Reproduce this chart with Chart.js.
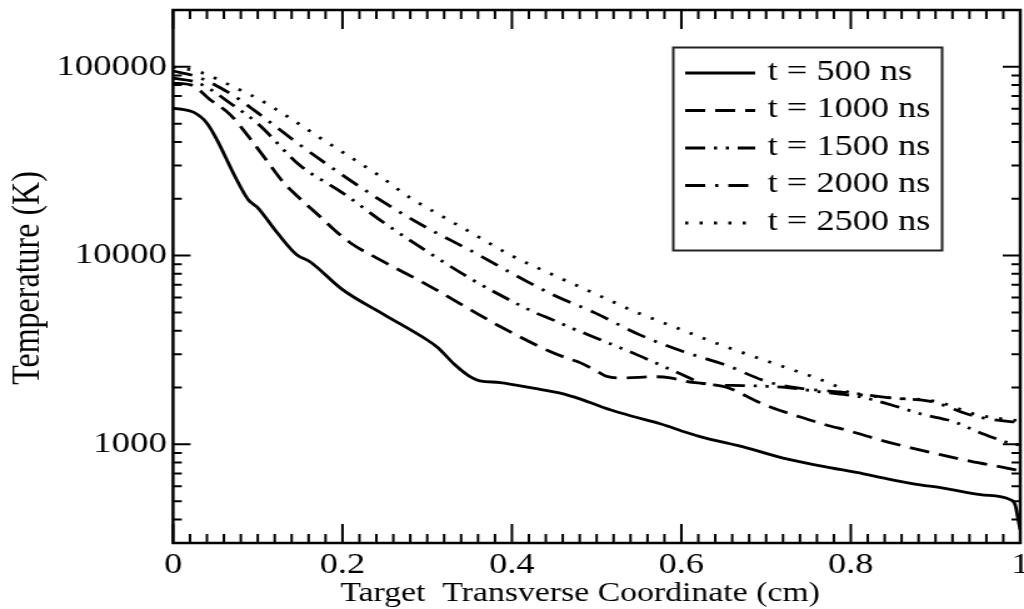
<!DOCTYPE html>
<html>
<head>
<meta charset="utf-8">
<title>Temperature vs transverse coordinate</title>
<script src="https://cdn.jsdelivr.net/npm/chart.js@4.4.0/dist/chart.umd.min.js"></script>
<style>
  html, body { margin: 0; padding: 0; background: #fff; }
</style>
</head>
<body>
<!-- drawn at 819 wide and shown at 1024 wide, like the original wide export -->
<canvas id="plot" width="819" height="609" style="display:block;width:1024px;height:609px"></canvas>
<script>
// transverse coordinate (cm) and temperature (K) for each time step
const x500 = [0, 0.024, 0.04, 0.052, 0.071, 0.089, 0.099, 0.123, 0.146, 0.162, 0.2, 0.25, 0.3, 0.312, 0.333, 0.351, 0.362, 0.386, 0.425, 0.457, 0.481, 0.516, 0.543, 0.575, 0.607, 0.622, 0.678, 0.72, 0.764, 0.815, 0.874, 0.909, 0.953, 0.988, 0.994, 0.997, 1.0];
const t500 = [60400, 57500, 50300, 40900, 27400, 19700, 18100, 13200, 10100, 9250, 6600, 4840, 3570, 3270, 2630, 2275, 2170, 2125, 1982, 1866, 1735, 1523, 1403, 1285, 1151, 1099, 955, 845, 769, 698, 617, 586, 541, 509, 478, 413, 352];

const x1000 = [0, 0.022, 0.043, 0.068, 0.09, 0.111, 0.13, 0.15, 0.174, 0.191, 0.209, 0.25, 0.3, 0.35, 0.386, 0.445, 0.465, 0.481, 0.501, 0.512, 0.53, 0.57, 0.587, 0.607, 0.63, 0.654, 0.678, 0.689, 0.708, 0.734, 0.77, 0.8, 0.836, 0.871, 0.907, 0.942, 0.98, 1.0];
const t1000 = [82000, 80000, 67400, 55500, 42200, 31700, 24500, 20000, 16000, 13600, 11700, 9200, 7000, 5200, 4210, 3100, 2860, 2700, 2430, 2290, 2250, 2280, 2250, 2150, 2090, 2000, 1790, 1690, 1556, 1425, 1270, 1172, 1050, 958, 879, 812, 755, 724];

const x1500 = [0, 0.03, 0.07, 0.1, 0.15, 0.2, 0.25, 0.3, 0.35, 0.386, 0.425, 0.449, 0.471, 0.5, 0.55, 0.6, 0.63, 0.66, 0.7, 0.725, 0.766, 0.81, 0.847, 0.885, 0.921, 0.953, 0.988, 1.0];
const t1500 = [87000, 82000, 63000, 50000, 30000, 21500, 14800, 10500, 7600, 6180, 5040, 4550, 4120, 3650, 2950, 2350, 2080, 2050, 2030, 2000, 1890, 1790, 1620, 1440, 1320, 1150, 1015, 990];

const x2000 = [0, 0.03, 0.07, 0.1, 0.15, 0.2, 0.25, 0.3, 0.35, 0.418, 0.449, 0.498, 0.551, 0.602, 0.652, 0.701, 0.737, 0.8, 0.847, 0.894, 0.914, 0.933, 0.956, 0.988, 1.0];
const t2000 = [95000, 88000, 71000, 57000, 38500, 26700, 19000, 14000, 10700, 7280, 6180, 4970, 3800, 3100, 2635, 2150, 1990, 1870, 1760, 1690, 1585, 1470, 1380, 1320, 1310];

const x2500 = [0, 0.032, 0.067, 0.103, 0.138, 0.174, 0.209, 0.244, 0.28, 0.315, 0.351, 0.398, 0.449, 0.496, 0.545, 0.595, 0.646, 0.697, 0.749, 0.779, 0.796, 0.85, 0.9, 0.95, 1.0];
const t2500 = [100000, 93700, 80000, 66700, 53500, 41900, 33300, 26400, 20200, 16400, 13300, 10070, 7890, 6340, 5050, 4130, 3370, 2800, 2330, 2070, 1900, 1760, 1690, 1430, 1330];

const seriesLabels = ['t = 500 ns', 't = 1000 ns', 't = 1500 ns', 't = 2000 ns', 't = 2500 ns'];
const xTickValues = [0, 0.2, 0.4, 0.6, 0.8, 1];
const yTickValues = [1000, 10000, 100000];

const SERIF = '"Liberation Serif", "DejaVu Serif", serif';

const toPoints = (xs, ts) => xs.map((v, i) => ({ x: v, y: ts[i] }));

// line styles: solid, dashed, dash-dot-dot, dash-dot, dotted
const dashes = [[], [16, 8], [16, 7, 2.5, 7, 2.5, 7], [16, 8, 2.5, 8], [2.5, 9]];
const seriesData = [
  toPoints(x500, t500),
  toPoints(x1000, t1000),
  toPoints(x1500, t1500),
  toPoints(x2000, t2000),
  toPoints(x2500, t2500)
];

const datasets = seriesData.map((d, i) => ({
  label: seriesLabels[i],
  data: d,
  borderColor: '#000',
  borderWidth: 2.8,
  borderDash: dashes[i],
  pointRadius: 0,
  fill: false,
  cubicInterpolationMode: 'monotone'
}));

// frame, inward ticks on all four sides, axis titles and the boxed legend
const frameAndLegend = {
  id: 'frameAndLegend',
  afterDraw(chart) {
    const { ctx, chartArea: a, scales: { x, y } } = chart;
    ctx.save();
    ctx.strokeStyle = '#000';
    ctx.setLineDash([]);

    ctx.lineWidth = 2;
    ctx.beginPath();
    for (let i = 0; i <= 50; i++) {
      const px = x.getPixelForValue(i * 0.02);
      const len = i % 10 === 0 ? 19 : 9;
      ctx.moveTo(px, a.bottom); ctx.lineTo(px, a.bottom - len);
      ctx.moveTo(px, a.top); ctx.lineTo(px, a.top + len);
    }
    for (let dec = 100; dec <= 100000; dec *= 10) {
      for (let m = 1; m <= 9; m++) {
        const v = dec * m;
        if (v <= y.min || v >= y.max) continue;
        const py = y.getPixelForValue(v);
        const len = m === 1 ? 14 : 7;
        ctx.moveTo(a.left, py); ctx.lineTo(a.left + len, py);
        ctx.moveTo(a.right, py); ctx.lineTo(a.right - len, py);
      }
    }
    ctx.stroke();

    ctx.lineWidth = 2.5;
    ctx.strokeRect(a.left, a.top, a.right - a.left, a.bottom - a.top);

    // axis titles
    ctx.fillStyle = '#000';
    ctx.font = '27px ' + SERIF;
    ctx.textAlign = 'center';
    ctx.textBaseline = 'alphabetic';
    ctx.fillText('Target  Transverse Coordinate (cm)', 464, 601);

    ctx.save();
    ctx.translate(23, 278);
    ctx.rotate(-Math.PI / 2);
    ctx.font = '32px ' + SERIF;
    ctx.textBaseline = 'middle';
    ctx.fillText('Temperature (K)', 0, 0);
    ctx.restore();

    // legend box
    const box = { left: 538.5, top: 47.5, right: 753.5, bottom: 250.5 };
    ctx.fillStyle = '#fff';
    ctx.fillRect(box.left, box.top, box.right - box.left, box.bottom - box.top);
    ctx.lineWidth = 2;
    ctx.strokeStyle = '#222';
    ctx.strokeRect(box.left, box.top, box.right - box.left, box.bottom - box.top);

    ctx.font = '29px ' + SERIF;
    ctx.textAlign = 'left';
    ctx.textBaseline = 'middle';
    ctx.fillStyle = '#000';
    ctx.strokeStyle = '#000';
    chart.data.datasets.forEach((ds, i) => {
      const rowY = 73 + i * 37.5;
      ctx.lineWidth = ds.borderWidth;
      ctx.setLineDash(ds.borderDash);
      ctx.beginPath();
      ctx.moveTo(548, rowY);
      ctx.lineTo(604, rowY);
      ctx.stroke();
      ctx.fillText(ds.label, 614, rowY - 1);
    });
    ctx.restore();
  }
};

new Chart(document.getElementById('plot'), {
  type: 'line',
  data: { datasets: datasets },
  options: {
    responsive: false,
    devicePixelRatio: 1,
    animation: false,
    events: [],
    layout: { padding: { top: 10, right: 3, left: 0, bottom: 0 } },
    plugins: {
      legend: { display: false },
      tooltip: { enabled: false }
    },
    scales: {
      x: {
        type: 'linear',
        min: 0,
        max: 1,
        grid: { display: false, drawTicks: false },
        border: { display: false },
        afterBuildTicks: (scale) => { scale.ticks = xTickValues.map(v => ({ value: v })); },
        afterFit: (scale) => {
          scale.height = 66;
          scale.paddingLeft = 0;
          scale.paddingRight = 0;
        },
        ticks: {
          color: '#000',
          padding: 5,
          maxRotation: 0,
          autoSkip: false,
          font: { family: SERIF, size: 29 },
          callback: (v) => (v === 0 || v === 1) ? String(v) : v.toFixed(1)
        }
      },
      y: {
        type: 'logarithmic',
        min: 300,
        max: 200000,
        grid: { display: false, drawTicks: false },
        border: { display: false },
        afterBuildTicks: (scale) => { scale.ticks = yTickValues.map(v => ({ value: v })); },
        afterFit: (scale) => {
          scale.width = 138.4;
          scale.paddingTop = 0;
          scale.paddingBottom = 0;
        },
        ticks: {
          color: '#000',
          padding: 5,
          autoSkip: false,
          font: { family: SERIF, size: 29.5 },
          callback: (v) => String(v)
        }
      }
    }
  },
  plugins: [frameAndLegend]
});
</script>
</body>
</html>
